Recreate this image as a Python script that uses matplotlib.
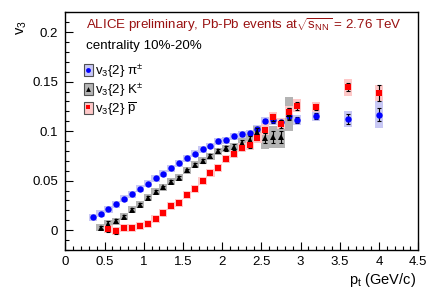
import matplotlib
matplotlib.use('Agg')
import matplotlib.pyplot as plt
from matplotlib.patches import Patch
from matplotlib.lines import Line2D
from matplotlib.ticker import MultipleLocator, FuncFormatter

plt.rcParams['font.family'] = ['Liberation Sans', 'DejaVu Sans']
plt.rcParams['mathtext.fontset'] = 'custom'
plt.rcParams['mathtext.rm'] = 'Liberation Sans'
plt.rcParams['mathtext.it'] = 'Liberation Sans'
plt.rcParams['mathtext.bf'] = 'Liberation Sans:bold'

# pions
pt_pi = [0.35, 0.45, 0.55, 0.65, 0.75, 0.85, 0.95, 1.05, 1.15, 1.25, 1.35, 1.45, 1.55, 1.65,
         1.75, 1.85, 1.95, 2.05, 2.15, 2.25, 2.35, 2.45, 2.55, 2.65, 2.75, 2.85, 2.95, 3.2, 3.6, 4.0]
v3_pi = [0.013, 0.0167, 0.021, 0.026, 0.0317, 0.0365, 0.042, 0.047, 0.0525, 0.057, 0.0625, 0.0675,
         0.0725, 0.077, 0.0816, 0.085, 0.0897, 0.0907, 0.0947, 0.0967, 0.0977, 0.102, 0.110, 0.111,
         0.109, 0.115, 0.1114, 0.115, 0.1124, 0.1165]
stat_pi = [0.001, 0.001, 0.001, 0.001, 0.001, 0.001, 0.001, 0.001, 0.001, 0.001, 0.001, 0.001,
           0.001, 0.001, 0.001, 0.0012, 0.0012, 0.0013, 0.0014, 0.0015, 0.0017, 0.002, 0.002, 0.0025,
           0.0025, 0.003, 0.003, 0.003, 0.005, 0.0067]
sys_pi = [0.0035, 0.0035, 0.0035, 0.0035, 0.0035, 0.0035, 0.0035, 0.0035, 0.0035, 0.0035, 0.0035,
          0.0035, 0.0035, 0.0035, 0.0035, 0.0035, 0.0035, 0.0035, 0.0035, 0.0035, 0.0037, 0.004,
          0.004, 0.0045, 0.0045, 0.005, 0.005, 0.0045, 0.008, 0.0135]

# kaons
pt_k = [0.45, 0.55, 0.65, 0.75, 0.85, 0.95, 1.05, 1.15, 1.25, 1.35, 1.45, 1.55, 1.65, 1.75,
        1.85, 1.95, 2.05, 2.15, 2.25, 2.35, 2.45, 2.55, 2.65, 2.75, 2.85]
v3_k = [0.0027, 0.0067, 0.009, 0.0137, 0.0207, 0.0257, 0.0327, 0.0388, 0.0432, 0.049, 0.053,
        0.0605, 0.066, 0.070, 0.0746, 0.0796, 0.0825, 0.084, 0.088, 0.0915, 0.0995, 0.093, 0.094,
        0.094, 0.117]
stat_k = [0.0015, 0.003, 0.002, 0.0015, 0.0015, 0.0015, 0.0015, 0.0015, 0.0015, 0.0015, 0.0015,
          0.0015, 0.0015, 0.0017, 0.002, 0.002, 0.0025, 0.003, 0.003, 0.0035, 0.004, 0.005, 0.006,
          0.006, 0.006]
sys_k = [0.0035, 0.0035, 0.0035, 0.0035, 0.0035, 0.0035, 0.0035, 0.0035, 0.0035, 0.0035, 0.0035,
         0.0035, 0.0035, 0.0035, 0.0035, 0.0035, 0.004, 0.0045, 0.005, 0.0055, 0.006, 0.011, 0.011,
         0.011, 0.017]

# anti-protons
pt_p = [0.55, 0.65, 0.75, 0.85, 0.95, 1.05, 1.15, 1.25, 1.35, 1.45, 1.55, 1.65, 1.75, 1.85,
        1.95, 2.05, 2.15, 2.25, 2.35, 2.45, 2.55, 2.65, 2.75, 2.85, 2.95, 3.2, 3.6, 4.0]
v3_p = [0.0016, -0.0004, 0.0023, 0.0026, 0.0044, 0.006, 0.0112, 0.017, 0.0242, 0.0276, 0.0357,
        0.0415, 0.0495, 0.0575, 0.0629, 0.0716, 0.0773, 0.0833, 0.0858, 0.0934, 0.1016, 0.114,
        0.1074, 0.119, 0.1258, 0.1248, 0.1442, 0.1386]
stat_p = [0.003, 0.003, 0.0015, 0.0015, 0.0012, 0.0012, 0.0012, 0.0012, 0.0012, 0.0012, 0.0012,
          0.0012, 0.0013, 0.0015, 0.0015, 0.0017, 0.002, 0.0022, 0.0025, 0.0028, 0.003, 0.0035,
          0.004, 0.004, 0.004, 0.003, 0.004, 0.0085]
sys_p = [0.004, 0.004, 0.004, 0.004, 0.004, 0.004, 0.004, 0.004, 0.004, 0.004, 0.004, 0.004,
         0.004, 0.004, 0.004, 0.004, 0.004, 0.0045, 0.0045, 0.005, 0.0055, 0.0055, 0.0055, 0.006,
         0.0065, 0.005, 0.0085, 0.0085]

series = [
    (pt_pi, v3_pi, stat_pi, sys_pi, 'o', '#0000ff', '#c8c8f5', 4.6),
    (pt_k, v3_k, stat_k, sys_k, '^', 'black', '#b4b4b4', 4.4),
    (pt_p, v3_p, stat_p, sys_p, 's', '#ff0000', '#ffc8c8', 4.4),
]

fig = plt.figure(figsize=(4.36, 2.95), dpi=100)
ax = fig.add_axes([0.1498, 0.1525, 0.8096, 0.8058])

z = 1
for pt, v, st, sy, mk, col, boxcol, ms in series:
    ax.bar(pt, [2 * s for s in sy], bottom=[a - s for a, s in zip(v, sy)], width=0.105,
           color=boxcol, edgecolor='none', zorder=z)
    z += 1
for pt, v, st, sy, mk, col, boxcol, ms in series:
    ax.errorbar(pt, v, yerr=st, fmt='none', ecolor='black', elinewidth=0.8, capsize=1.6,
                capthick=0.8, zorder=z)
    ax.plot(pt, v, ls='none', marker=mk, color=col, markersize=ms, markeredgewidth=0, zorder=z + 1)
    z += 2

ax.set_xlim(0, 4.5)
ax.set_ylim(-0.02, 0.22)
ax.xaxis.set_major_locator(MultipleLocator(0.5))
ax.xaxis.set_minor_locator(MultipleLocator(0.1))
ax.yaxis.set_major_locator(MultipleLocator(0.05))
ax.yaxis.set_minor_locator(MultipleLocator(0.01))
fmt = FuncFormatter(lambda x, p: '%g' % round(x, 3))
ax.xaxis.set_major_formatter(fmt)
ax.yaxis.set_major_formatter(fmt)
ax.tick_params(which='both', direction='in', top=False, right=False, labelsize=9.5)
ax.tick_params(which='major', length=6, width=0.8)
ax.tick_params(which='minor', length=3, width=0.8)
ax.tick_params(axis='x', pad=4)
ax.tick_params(axis='y', pad=5)
for sp in ax.spines.values():
    sp.set_linewidth(1.0)

fig.text(0.955, 0.022, r'p$_{\mathrm{t}}$ (GeV/c)', ha='right', va='bottom', fontsize=10.5)
fig.text(0.033, 0.93, r'v$_3$', rotation=90, ha='left', va='top', fontsize=10.5)

ax.text(0.06, 0.945, r'ALICE preliminary, Pb-Pb events at$\sqrt{\mathrm{s}_{\mathrm{NN}}}$ = 2.76 TeV',
        transform=ax.transAxes, color='#991111', fontsize=9.6, ha='left', va='center')
ax.text(0.06, 0.86, 'centrality 10%-20%', transform=ax.transAxes, color='black',
        fontsize=9.6, ha='left', va='center')

handles = []
for pt, v, st, sy, mk, col, boxcol, ms in series:
    handles.append((Patch(facecolor=boxcol, edgecolor='#505050', linewidth=0.8),
                    Line2D([], [], ls='none', marker=mk, color=col, markersize=3.5, markeredgewidth=0)))
labels = [r'v$_3${2} π$^{\pm}$', r'v$_3${2} K$^{\pm}$', r'v$_3${2} $\overline{\mathrm{p}}$']
ax.legend(handles, labels, loc='upper left', bbox_to_anchor=(0.052, 0.79), frameon=False,
          fontsize=9.5, handlelength=0.7, handleheight=1.0, handletextpad=0.15,
          labelspacing=0.12, borderpad=0, borderaxespad=0)

fig.savefig('out.png', dpi=100)
